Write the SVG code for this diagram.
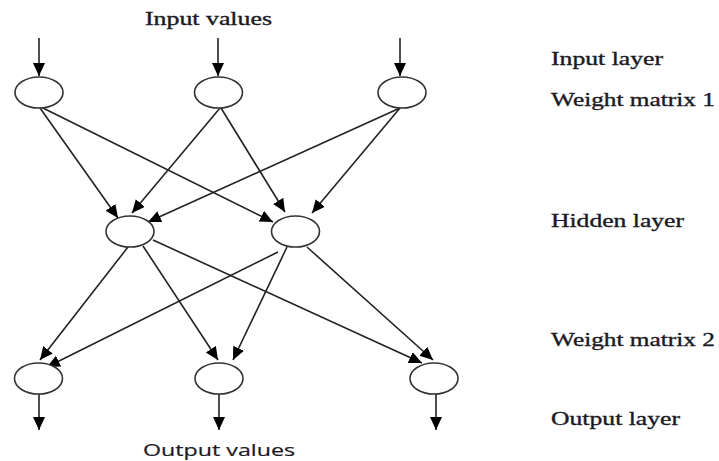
<svg xmlns="http://www.w3.org/2000/svg" width="719" height="461" viewBox="0 0 719 461">
<style>
.node{fill:#fff;stroke:#333;stroke-width:1.6}
.edge{stroke:#222;stroke-width:1.6;fill:none;marker-end:url(#ah)}
.lbl{font-family:"Liberation Serif","DejaVu Serif",serif;font-size:19px;fill:#1a1a24;stroke:#1a1a24;stroke-width:0.35}
.sans{font-family:"Open Sans","Liberation Sans",sans-serif;font-size:17px;fill:#1a1a24;stroke:#1a1a24;stroke-width:0.2}
</style>
<defs>
<marker id="ah" markerUnits="userSpaceOnUse" markerWidth="15" markerHeight="13" refX="13" refY="6" orient="auto">
<path d="M0,0 L13,6 L0,12 z" fill="#000"/>
</marker>
</defs>
<rect width="719" height="461" fill="#fff"/>
<g id="connectors">
<line class="edge" x1="39" y1="38" x2="39" y2="76"/>
<line class="edge" x1="218" y1="38" x2="218" y2="76"/>
<line class="edge" x1="400" y1="38" x2="400" y2="76"/>
<line class="edge" x1="40" y1="108" x2="118" y2="218"/>
<line class="edge" x1="43" y1="108" x2="273" y2="222"/>
<line class="edge" x1="220" y1="108" x2="132" y2="213"/>
<line class="edge" x1="221" y1="108" x2="285" y2="212"/>
<line class="edge" x1="400" y1="108" x2="148" y2="222"/>
<line class="edge" x1="400" y1="108" x2="312" y2="213"/>
<line class="edge" x1="128" y1="247" x2="40" y2="360"/>
<line class="edge" x1="143" y1="246" x2="218" y2="360"/>
<line class="edge" x1="153" y1="240" x2="422" y2="363"/>
<line class="edge" x1="278" y1="252" x2="47" y2="367"/>
<line class="edge" x1="287" y1="247" x2="233" y2="360"/>
<line class="edge" x1="307" y1="247" x2="433" y2="360"/>
<line class="edge" x1="39" y1="394" x2="39" y2="430"/>
<line class="edge" x1="219" y1="394" x2="219" y2="430"/>
<line class="edge" x1="436" y1="394" x2="436" y2="430"/>
</g>
<g id="in1"><ellipse class="node" cx="39" cy="92.5" rx="24" ry="15.5"/></g>
<g id="in2"><ellipse class="node" cx="218.5" cy="92.5" rx="24" ry="15.5"/></g>
<g id="in3"><ellipse class="node" cx="402" cy="92.5" rx="24" ry="15.5"/></g>
<g id="h1"><ellipse class="node" cx="130" cy="231.5" rx="24" ry="15.5"/></g>
<g id="h2"><ellipse class="node" cx="295.5" cy="231.5" rx="24" ry="15.5"/></g>
<g id="out1"><ellipse class="node" cx="38.5" cy="378.5" rx="24" ry="15.5"/></g>
<g id="out2"><ellipse class="node" cx="219" cy="378.5" rx="24" ry="15.5"/></g>
<g id="out3"><ellipse class="node" cx="434" cy="378.5" rx="24" ry="15.5"/></g>
<g id="labels">
<text class="lbl" x="145" y="25" textLength="127" lengthAdjust="spacingAndGlyphs">Input values</text>
<text class="sans" x="143" y="456" textLength="152" lengthAdjust="spacingAndGlyphs">Output values</text>
<text class="lbl" x="551" y="65" textLength="112" lengthAdjust="spacingAndGlyphs">Input layer</text>
<text class="lbl" x="551" y="106" textLength="164" lengthAdjust="spacingAndGlyphs">Weight matrix 1</text>
<text class="lbl" x="551" y="227" textLength="133" lengthAdjust="spacingAndGlyphs">Hidden layer</text>
<text class="lbl" x="551" y="346" textLength="164" lengthAdjust="spacingAndGlyphs">Weight matrix 2</text>
<text class="lbl" x="551" y="425" textLength="129" lengthAdjust="spacingAndGlyphs">Output layer</text>
</g>
</svg>
